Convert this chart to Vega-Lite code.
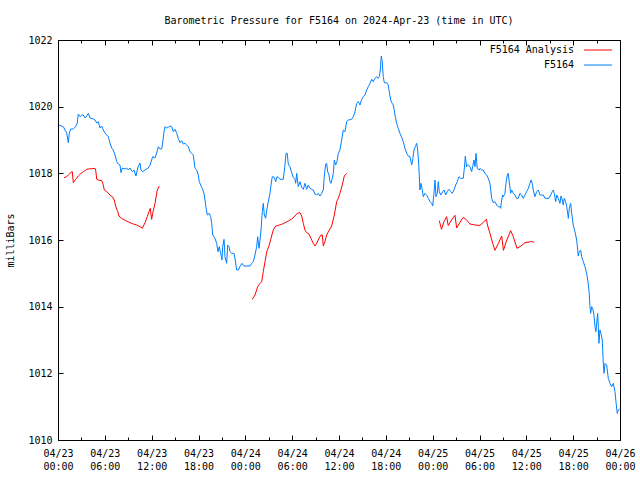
{
"$schema": "https://vega.github.io/schema/vega-lite/v6.json",
"width": 562, "height": 400,
"autosize": "none",
"padding": {"left": 58, "top": 40, "right": 20, "bottom": 40},
"background": "white",
"title": {"text": "Barometric Pressure for F5164 on 2024-Apr-23 (time in UTC)", "font": "DejaVu Sans Mono", "fontSize": 10, "fontWeight": "normal", "color": "black", "anchor": "middle", "offset": 9},
"config": {
  "view": {"stroke": "black", "strokeWidth": 1},
  "axis": {"grid": false, "domainColor": "black", "tickColor": "black", "labelColor": "black", "titleColor": "black", "labelFont": "DejaVu Sans Mono", "titleFont": "DejaVu Sans Mono", "labelFontSize": 10, "titleFontSize": 10, "titleFontWeight": "normal", "labelFlush": false, "labelOverlap": false, "labelBound": false}
},
"data": {"values": [
{"series":"F5164","seg":0,"hours":0.13,"mbar":1019.45},
{"series":"F5164","seg":0,"hours":0.68,"mbar":1019.40},
{"series":"F5164","seg":0,"hours":0.90,"mbar":1019.30},
{"series":"F5164","seg":0,"hours":1.11,"mbar":1019.21},
{"series":"F5164","seg":0,"hours":1.32,"mbar":1018.92},
{"series":"F5164","seg":0,"hours":1.45,"mbar":1019.21},
{"series":"F5164","seg":0,"hours":1.63,"mbar":1019.33},
{"series":"F5164","seg":0,"hours":1.96,"mbar":1019.33},
{"series":"F5164","seg":0,"hours":2.27,"mbar":1019.40},
{"series":"F5164","seg":0,"hours":2.47,"mbar":1019.51},
{"series":"F5164","seg":0,"hours":2.60,"mbar":1019.78},
{"series":"F5164","seg":0,"hours":2.82,"mbar":1019.70},
{"series":"F5164","seg":0,"hours":3.04,"mbar":1019.75},
{"series":"F5164","seg":0,"hours":3.24,"mbar":1019.75},
{"series":"F5164","seg":0,"hours":3.46,"mbar":1019.66},
{"series":"F5164","seg":0,"hours":3.68,"mbar":1019.72},
{"series":"F5164","seg":0,"hours":3.88,"mbar":1019.80},
{"series":"F5164","seg":0,"hours":4.10,"mbar":1019.66},
{"series":"F5164","seg":0,"hours":4.52,"mbar":1019.63},
{"series":"F5164","seg":0,"hours":4.74,"mbar":1019.60},
{"series":"F5164","seg":0,"hours":4.96,"mbar":1019.51},
{"series":"F5164","seg":0,"hours":5.16,"mbar":1019.55},
{"series":"F5164","seg":0,"hours":5.38,"mbar":1019.36},
{"series":"F5164","seg":0,"hours":5.60,"mbar":1019.42},
{"series":"F5164","seg":0,"hours":5.80,"mbar":1019.30},
{"series":"F5164","seg":0,"hours":6.02,"mbar":1019.21},
{"series":"F5164","seg":0,"hours":6.24,"mbar":1019.15},
{"series":"F5164","seg":0,"hours":6.44,"mbar":1019.10},
{"series":"F5164","seg":0,"hours":6.66,"mbar":1018.91},
{"series":"F5164","seg":0,"hours":6.88,"mbar":1018.76},
{"series":"F5164","seg":0,"hours":7.08,"mbar":1018.70},
{"series":"F5164","seg":0,"hours":7.30,"mbar":1018.55},
{"series":"F5164","seg":0,"hours":7.52,"mbar":1018.35},
{"series":"F5164","seg":0,"hours":7.72,"mbar":1018.28},
{"series":"F5164","seg":0,"hours":7.94,"mbar":1018.25},
{"series":"F5164","seg":0,"hours":8.07,"mbar":1018.02},
{"series":"F5164","seg":0,"hours":8.24,"mbar":1018.16},
{"series":"F5164","seg":0,"hours":8.58,"mbar":1018.13},
{"series":"F5164","seg":0,"hours":8.80,"mbar":1018.16},
{"series":"F5164","seg":0,"hours":9.01,"mbar":1018.10},
{"series":"F5164","seg":0,"hours":9.22,"mbar":1018.16},
{"series":"F5164","seg":0,"hours":9.52,"mbar":1018.05},
{"series":"F5164","seg":0,"hours":9.74,"mbar":1018.10},
{"series":"F5164","seg":0,"hours":9.99,"mbar":1017.92},
{"series":"F5164","seg":0,"hours":10.21,"mbar":1018.16},
{"series":"F5164","seg":0,"hours":10.50,"mbar":1018.31},
{"series":"F5164","seg":0,"hours":10.63,"mbar":1018.10},
{"series":"F5164","seg":0,"hours":10.85,"mbar":1018.05},
{"series":"F5164","seg":0,"hours":11.15,"mbar":1018.10},
{"series":"F5164","seg":0,"hours":11.57,"mbar":1018.16},
{"series":"F5164","seg":0,"hours":11.79,"mbar":1018.25},
{"series":"F5164","seg":0,"hours":12.13,"mbar":1018.50},
{"series":"F5164","seg":0,"hours":12.43,"mbar":1018.46},
{"series":"F5164","seg":0,"hours":12.64,"mbar":1018.61},
{"series":"F5164","seg":0,"hours":12.85,"mbar":1018.80},
{"series":"F5164","seg":0,"hours":13.07,"mbar":1018.73},
{"series":"F5164","seg":0,"hours":13.28,"mbar":1018.73},
{"series":"F5164","seg":0,"hours":13.41,"mbar":1018.91},
{"series":"F5164","seg":0,"hours":13.58,"mbar":1019.25},
{"series":"F5164","seg":0,"hours":13.71,"mbar":1019.40},
{"series":"F5164","seg":0,"hours":13.93,"mbar":1019.36},
{"series":"F5164","seg":0,"hours":14.13,"mbar":1019.38},
{"series":"F5164","seg":0,"hours":14.35,"mbar":1019.42},
{"series":"F5164","seg":0,"hours":14.57,"mbar":1019.40},
{"series":"F5164","seg":0,"hours":14.77,"mbar":1019.25},
{"series":"F5164","seg":0,"hours":14.99,"mbar":1019.32},
{"series":"F5164","seg":0,"hours":15.21,"mbar":1019.20},
{"series":"F5164","seg":0,"hours":15.41,"mbar":1019.05},
{"series":"F5164","seg":0,"hours":15.63,"mbar":1018.92},
{"series":"F5164","seg":0,"hours":15.85,"mbar":1018.98},
{"series":"F5164","seg":0,"hours":16.05,"mbar":1018.88},
{"series":"F5164","seg":0,"hours":16.27,"mbar":1018.90},
{"series":"F5164","seg":0,"hours":16.49,"mbar":1018.85},
{"series":"F5164","seg":0,"hours":16.69,"mbar":1018.80},
{"series":"F5164","seg":0,"hours":16.91,"mbar":1018.65},
{"series":"F5164","seg":0,"hours":17.13,"mbar":1018.60},
{"series":"F5164","seg":0,"hours":17.33,"mbar":1018.55},
{"series":"F5164","seg":0,"hours":17.55,"mbar":1018.15},
{"series":"F5164","seg":0,"hours":17.77,"mbar":1018.10},
{"series":"F5164","seg":0,"hours":17.97,"mbar":1017.95},
{"series":"F5164","seg":0,"hours":18.10,"mbar":1017.75},
{"series":"F5164","seg":0,"hours":18.28,"mbar":1017.65},
{"series":"F5164","seg":0,"hours":18.49,"mbar":1017.55},
{"series":"F5164","seg":0,"hours":18.70,"mbar":1017.40},
{"series":"F5164","seg":0,"hours":18.83,"mbar":1017.20},
{"series":"F5164","seg":0,"hours":18.96,"mbar":1016.98},
{"series":"F5164","seg":0,"hours":19.13,"mbar":1016.75},
{"series":"F5164","seg":0,"hours":19.38,"mbar":1016.80},
{"series":"F5164","seg":0,"hours":19.56,"mbar":1016.70},
{"series":"F5164","seg":0,"hours":19.69,"mbar":1016.50},
{"series":"F5164","seg":0,"hours":19.82,"mbar":1016.15},
{"series":"F5164","seg":0,"hours":20.11,"mbar":1016.05},
{"series":"F5164","seg":0,"hours":20.33,"mbar":1015.90},
{"series":"F5164","seg":0,"hours":20.50,"mbar":1015.65},
{"series":"F5164","seg":0,"hours":20.66,"mbar":1015.80},
{"series":"F5164","seg":0,"hours":20.84,"mbar":1015.60},
{"series":"F5164","seg":0,"hours":21.01,"mbar":1015.40},
{"series":"F5164","seg":0,"hours":21.10,"mbar":1015.80},
{"series":"F5164","seg":0,"hours":21.27,"mbar":1016.02},
{"series":"F5164","seg":0,"hours":21.39,"mbar":1015.50},
{"series":"F5164","seg":0,"hours":21.61,"mbar":1015.30},
{"series":"F5164","seg":0,"hours":21.74,"mbar":1015.85},
{"series":"F5164","seg":0,"hours":21.91,"mbar":1015.80},
{"series":"F5164","seg":0,"hours":22.03,"mbar":1015.65},
{"series":"F5164","seg":0,"hours":22.25,"mbar":1015.60},
{"series":"F5164","seg":0,"hours":22.55,"mbar":1015.60},
{"series":"F5164","seg":0,"hours":22.71,"mbar":1015.40},
{"series":"F5164","seg":0,"hours":22.89,"mbar":1015.10},
{"series":"F5164","seg":0,"hours":23.10,"mbar":1015.10},
{"series":"F5164","seg":0,"hours":23.31,"mbar":1015.20},
{"series":"F5164","seg":0,"hours":23.57,"mbar":1015.30},
{"series":"F5164","seg":0,"hours":23.83,"mbar":1015.22},
{"series":"F5164","seg":0,"hours":24.60,"mbar":1015.22},
{"series":"F5164","seg":0,"hours":24.81,"mbar":1015.30},
{"series":"F5164","seg":0,"hours":25.02,"mbar":1015.35},
{"series":"F5164","seg":0,"hours":25.24,"mbar":1015.55},
{"series":"F5164","seg":0,"hours":25.45,"mbar":1015.80},
{"series":"F5164","seg":0,"hours":25.58,"mbar":1016.10},
{"series":"F5164","seg":0,"hours":25.75,"mbar":1015.75},
{"series":"F5164","seg":0,"hours":25.88,"mbar":1016.00},
{"series":"F5164","seg":0,"hours":26.01,"mbar":1016.30},
{"series":"F5164","seg":0,"hours":26.17,"mbar":1016.85},
{"series":"F5164","seg":0,"hours":26.30,"mbar":1017.10},
{"series":"F5164","seg":0,"hours":26.43,"mbar":1016.75},
{"series":"F5164","seg":0,"hours":26.61,"mbar":1016.65},
{"series":"F5164","seg":0,"hours":26.74,"mbar":1016.90},
{"series":"F5164","seg":0,"hours":26.94,"mbar":1017.15},
{"series":"F5164","seg":0,"hours":27.16,"mbar":1017.40},
{"series":"F5164","seg":0,"hours":27.29,"mbar":1017.65},
{"series":"F5164","seg":0,"hours":27.45,"mbar":1017.90},
{"series":"F5164","seg":0,"hours":27.71,"mbar":1017.88},
{"series":"F5164","seg":0,"hours":27.89,"mbar":1017.75},
{"series":"F5164","seg":0,"hours":28.06,"mbar":1017.90},
{"series":"F5164","seg":0,"hours":28.22,"mbar":1017.88},
{"series":"F5164","seg":0,"hours":28.44,"mbar":1017.82},
{"series":"F5164","seg":0,"hours":28.86,"mbar":1017.82},
{"series":"F5164","seg":0,"hours":29.08,"mbar":1018.25},
{"series":"F5164","seg":0,"hours":29.21,"mbar":1018.60},
{"series":"F5164","seg":0,"hours":29.37,"mbar":1018.60},
{"series":"F5164","seg":0,"hours":29.50,"mbar":1018.28},
{"series":"F5164","seg":0,"hours":29.72,"mbar":1018.20},
{"series":"F5164","seg":0,"hours":29.94,"mbar":1018.02},
{"series":"F5164","seg":0,"hours":30.14,"mbar":1017.88},
{"series":"F5164","seg":0,"hours":30.36,"mbar":1017.82},
{"series":"F5164","seg":0,"hours":30.45,"mbar":1017.70},
{"series":"F5164","seg":0,"hours":30.58,"mbar":1018.00},
{"series":"F5164","seg":0,"hours":30.78,"mbar":1017.60},
{"series":"F5164","seg":0,"hours":31.00,"mbar":1017.75},
{"series":"F5164","seg":0,"hours":31.22,"mbar":1017.58},
{"series":"F5164","seg":0,"hours":31.43,"mbar":1017.52},
{"series":"F5164","seg":0,"hours":31.64,"mbar":1017.70},
{"series":"F5164","seg":0,"hours":31.86,"mbar":1017.52},
{"series":"F5164","seg":0,"hours":32.06,"mbar":1017.65},
{"series":"F5164","seg":0,"hours":32.28,"mbar":1017.55},
{"series":"F5164","seg":0,"hours":32.50,"mbar":1017.52},
{"series":"F5164","seg":0,"hours":32.70,"mbar":1017.50},
{"series":"F5164","seg":0,"hours":32.92,"mbar":1017.38},
{"series":"F5164","seg":0,"hours":33.14,"mbar":1017.35},
{"series":"F5164","seg":0,"hours":33.34,"mbar":1017.40},
{"series":"F5164","seg":0,"hours":33.56,"mbar":1017.32},
{"series":"F5164","seg":0,"hours":33.78,"mbar":1017.40},
{"series":"F5164","seg":0,"hours":33.99,"mbar":1017.50},
{"series":"F5164","seg":0,"hours":34.11,"mbar":1017.90},
{"series":"F5164","seg":0,"hours":34.29,"mbar":1018.28},
{"series":"F5164","seg":0,"hours":34.42,"mbar":1018.30},
{"series":"F5164","seg":0,"hours":34.55,"mbar":1018.05},
{"series":"F5164","seg":0,"hours":34.72,"mbar":1017.95},
{"series":"F5164","seg":0,"hours":34.84,"mbar":1017.75},
{"series":"F5164","seg":0,"hours":34.97,"mbar":1017.70},
{"series":"F5164","seg":0,"hours":35.14,"mbar":1017.85},
{"series":"F5164","seg":0,"hours":35.27,"mbar":1018.00},
{"series":"F5164","seg":0,"hours":35.40,"mbar":1018.40},
{"series":"F5164","seg":0,"hours":35.57,"mbar":1018.25},
{"series":"F5164","seg":0,"hours":35.74,"mbar":1018.35},
{"series":"F5164","seg":0,"hours":35.91,"mbar":1018.60},
{"series":"F5164","seg":0,"hours":36.12,"mbar":1018.70},
{"series":"F5164","seg":0,"hours":36.34,"mbar":1019.00},
{"series":"F5164","seg":0,"hours":36.55,"mbar":1019.30},
{"series":"F5164","seg":0,"hours":36.77,"mbar":1019.25},
{"series":"F5164","seg":0,"hours":36.98,"mbar":1019.55},
{"series":"F5164","seg":0,"hours":37.19,"mbar":1019.60},
{"series":"F5164","seg":0,"hours":37.62,"mbar":1019.62},
{"series":"F5164","seg":0,"hours":37.83,"mbar":1019.70},
{"series":"F5164","seg":0,"hours":38.05,"mbar":1019.85},
{"series":"F5164","seg":0,"hours":38.26,"mbar":1020.10},
{"series":"F5164","seg":0,"hours":38.47,"mbar":1020.15},
{"series":"F5164","seg":0,"hours":38.69,"mbar":1020.05},
{"series":"F5164","seg":0,"hours":38.91,"mbar":1020.22},
{"series":"F5164","seg":0,"hours":39.11,"mbar":1020.30},
{"series":"F5164","seg":0,"hours":39.33,"mbar":1020.35},
{"series":"F5164","seg":0,"hours":39.55,"mbar":1020.50},
{"series":"F5164","seg":0,"hours":39.75,"mbar":1020.60},
{"series":"F5164","seg":0,"hours":39.97,"mbar":1020.70},
{"series":"F5164","seg":0,"hours":40.19,"mbar":1020.82},
{"series":"F5164","seg":0,"hours":40.39,"mbar":1020.75},
{"series":"F5164","seg":0,"hours":40.61,"mbar":1020.85},
{"series":"F5164","seg":0,"hours":40.83,"mbar":1020.90},
{"series":"F5164","seg":0,"hours":41.03,"mbar":1020.85},
{"series":"F5164","seg":0,"hours":41.16,"mbar":1020.90},
{"series":"F5164","seg":0,"hours":41.29,"mbar":1021.10},
{"series":"F5164","seg":0,"hours":41.42,"mbar":1021.52},
{"series":"F5164","seg":0,"hours":41.54,"mbar":1021.35},
{"series":"F5164","seg":0,"hours":41.67,"mbar":1020.90},
{"series":"F5164","seg":0,"hours":41.80,"mbar":1020.72},
{"series":"F5164","seg":0,"hours":42.11,"mbar":1020.72},
{"series":"F5164","seg":0,"hours":42.31,"mbar":1020.65},
{"series":"F5164","seg":0,"hours":42.44,"mbar":1020.45},
{"series":"F5164","seg":0,"hours":42.62,"mbar":1020.20},
{"series":"F5164","seg":0,"hours":42.75,"mbar":1020.12},
{"series":"F5164","seg":0,"hours":42.95,"mbar":1020.05},
{"series":"F5164","seg":0,"hours":43.08,"mbar":1019.90},
{"series":"F5164","seg":0,"hours":43.21,"mbar":1019.70},
{"series":"F5164","seg":0,"hours":43.39,"mbar":1019.50},
{"series":"F5164","seg":0,"hours":43.59,"mbar":1019.35},
{"series":"F5164","seg":0,"hours":43.81,"mbar":1019.20},
{"series":"F5164","seg":0,"hours":44.03,"mbar":1019.08},
{"series":"F5164","seg":0,"hours":44.23,"mbar":1018.95},
{"series":"F5164","seg":0,"hours":44.45,"mbar":1018.75},
{"series":"F5164","seg":0,"hours":44.67,"mbar":1018.60},
{"series":"F5164","seg":0,"hours":44.87,"mbar":1018.52},
{"series":"F5164","seg":0,"hours":45.09,"mbar":1018.50},
{"series":"F5164","seg":0,"hours":45.31,"mbar":1018.25},
{"series":"F5164","seg":0,"hours":45.44,"mbar":1018.40},
{"series":"F5164","seg":0,"hours":45.61,"mbar":1018.70},
{"series":"F5164","seg":0,"hours":45.77,"mbar":1018.80},
{"series":"F5164","seg":0,"hours":45.95,"mbar":1018.90},
{"series":"F5164","seg":0,"hours":46.08,"mbar":1018.70},
{"series":"F5164","seg":0,"hours":46.21,"mbar":1018.30},
{"series":"F5164","seg":0,"hours":46.37,"mbar":1017.50},
{"series":"F5164","seg":0,"hours":46.50,"mbar":1017.70},
{"series":"F5164","seg":0,"hours":46.63,"mbar":1017.55},
{"series":"F5164","seg":0,"hours":46.80,"mbar":1017.30},
{"series":"F5164","seg":0,"hours":47.01,"mbar":1017.40},
{"series":"F5164","seg":0,"hours":47.23,"mbar":1017.35},
{"series":"F5164","seg":0,"hours":47.44,"mbar":1017.25},
{"series":"F5164","seg":0,"hours":47.66,"mbar":1017.15},
{"series":"F5164","seg":0,"hours":47.87,"mbar":1017.10},
{"series":"F5164","seg":0,"hours":48.00,"mbar":1017.02},
{"series":"F5164","seg":0,"hours":48.17,"mbar":1017.40},
{"series":"F5164","seg":0,"hours":48.30,"mbar":1017.80},
{"series":"F5164","seg":0,"hours":48.42,"mbar":1017.30},
{"series":"F5164","seg":0,"hours":48.59,"mbar":1017.40},
{"series":"F5164","seg":0,"hours":48.72,"mbar":1017.75},
{"series":"F5164","seg":0,"hours":48.85,"mbar":1017.45},
{"series":"F5164","seg":0,"hours":49.03,"mbar":1017.35},
{"series":"F5164","seg":0,"hours":49.28,"mbar":1017.45},
{"series":"F5164","seg":0,"hours":49.45,"mbar":1017.50},
{"series":"F5164","seg":0,"hours":49.67,"mbar":1017.35},
{"series":"F5164","seg":0,"hours":49.87,"mbar":1017.45},
{"series":"F5164","seg":0,"hours":50.09,"mbar":1017.52},
{"series":"F5164","seg":0,"hours":50.31,"mbar":1017.45},
{"series":"F5164","seg":0,"hours":50.51,"mbar":1017.40},
{"series":"F5164","seg":0,"hours":50.73,"mbar":1017.50},
{"series":"F5164","seg":0,"hours":50.95,"mbar":1017.65},
{"series":"F5164","seg":0,"hours":51.15,"mbar":1017.75},
{"series":"F5164","seg":0,"hours":51.37,"mbar":1017.90},
{"series":"F5164","seg":0,"hours":51.59,"mbar":1017.85},
{"series":"F5164","seg":0,"hours":51.92,"mbar":1017.85},
{"series":"F5164","seg":0,"hours":52.10,"mbar":1018.25},
{"series":"F5164","seg":0,"hours":52.18,"mbar":1018.52},
{"series":"F5164","seg":0,"hours":52.35,"mbar":1018.20},
{"series":"F5164","seg":0,"hours":52.56,"mbar":1018.25},
{"series":"F5164","seg":0,"hours":52.78,"mbar":1018.20},
{"series":"F5164","seg":0,"hours":52.99,"mbar":1018.05},
{"series":"F5164","seg":0,"hours":53.12,"mbar":1018.20},
{"series":"F5164","seg":0,"hours":53.29,"mbar":1018.40},
{"series":"F5164","seg":0,"hours":53.42,"mbar":1018.20},
{"series":"F5164","seg":0,"hours":53.55,"mbar":1018.60},
{"series":"F5164","seg":0,"hours":53.71,"mbar":1018.15},
{"series":"F5164","seg":0,"hours":53.97,"mbar":1018.10},
{"series":"F5164","seg":0,"hours":54.06,"mbar":1018.15},
{"series":"F5164","seg":0,"hours":54.28,"mbar":1018.10},
{"series":"F5164","seg":0,"hours":54.48,"mbar":1018.10},
{"series":"F5164","seg":0,"hours":54.70,"mbar":1018.00},
{"series":"F5164","seg":0,"hours":54.92,"mbar":1017.95},
{"series":"F5164","seg":0,"hours":55.12,"mbar":1017.85},
{"series":"F5164","seg":0,"hours":55.34,"mbar":1017.70},
{"series":"F5164","seg":0,"hours":55.56,"mbar":1017.25},
{"series":"F5164","seg":0,"hours":55.76,"mbar":1017.12},
{"series":"F5164","seg":0,"hours":55.98,"mbar":1017.15},
{"series":"F5164","seg":0,"hours":56.20,"mbar":1017.05},
{"series":"F5164","seg":0,"hours":56.40,"mbar":1017.00},
{"series":"F5164","seg":0,"hours":56.62,"mbar":1017.00},
{"series":"F5164","seg":0,"hours":56.71,"mbar":1016.95},
{"series":"F5164","seg":0,"hours":56.84,"mbar":1017.20},
{"series":"F5164","seg":0,"hours":56.97,"mbar":1017.35},
{"series":"F5164","seg":0,"hours":57.05,"mbar":1017.30},
{"series":"F5164","seg":0,"hours":57.26,"mbar":1017.40},
{"series":"F5164","seg":0,"hours":57.39,"mbar":1017.70},
{"series":"F5164","seg":0,"hours":57.56,"mbar":1017.95},
{"series":"F5164","seg":0,"hours":57.68,"mbar":1018.00},
{"series":"F5164","seg":0,"hours":57.81,"mbar":1017.75},
{"series":"F5164","seg":0,"hours":57.99,"mbar":1017.40},
{"series":"F5164","seg":0,"hours":58.12,"mbar":1017.50},
{"series":"F5164","seg":0,"hours":58.33,"mbar":1017.40},
{"series":"F5164","seg":0,"hours":58.54,"mbar":1017.35},
{"series":"F5164","seg":0,"hours":58.76,"mbar":1017.25},
{"series":"F5164","seg":0,"hours":58.97,"mbar":1017.25},
{"series":"F5164","seg":0,"hours":59.18,"mbar":1017.40},
{"series":"F5164","seg":0,"hours":59.40,"mbar":1017.35},
{"series":"F5164","seg":0,"hours":59.61,"mbar":1017.25},
{"series":"F5164","seg":0,"hours":59.82,"mbar":1017.35},
{"series":"F5164","seg":0,"hours":60.04,"mbar":1017.45},
{"series":"F5164","seg":0,"hours":60.25,"mbar":1017.55},
{"series":"F5164","seg":0,"hours":60.46,"mbar":1017.70},
{"series":"F5164","seg":0,"hours":60.59,"mbar":1017.80},
{"series":"F5164","seg":0,"hours":60.76,"mbar":1017.70},
{"series":"F5164","seg":0,"hours":60.89,"mbar":1017.50},
{"series":"F5164","seg":0,"hours":61.10,"mbar":1017.30},
{"series":"F5164","seg":0,"hours":61.32,"mbar":1017.45},
{"series":"F5164","seg":0,"hours":61.53,"mbar":1017.50},
{"series":"F5164","seg":0,"hours":61.75,"mbar":1017.35},
{"series":"F5164","seg":0,"hours":62.17,"mbar":1017.35},
{"series":"F5164","seg":0,"hours":62.39,"mbar":1017.25},
{"series":"F5164","seg":0,"hours":62.90,"mbar":1017.25},
{"series":"F5164","seg":0,"hours":63.12,"mbar":1017.35},
{"series":"F5164","seg":0,"hours":63.32,"mbar":1017.45},
{"series":"F5164","seg":0,"hours":63.45,"mbar":1017.50},
{"series":"F5164","seg":0,"hours":63.58,"mbar":1017.40},
{"series":"F5164","seg":0,"hours":63.76,"mbar":1017.15},
{"series":"F5164","seg":0,"hours":63.89,"mbar":1017.35},
{"series":"F5164","seg":0,"hours":64.09,"mbar":1017.25},
{"series":"F5164","seg":0,"hours":64.31,"mbar":1017.10},
{"series":"F5164","seg":0,"hours":64.44,"mbar":1017.32},
{"series":"F5164","seg":0,"hours":64.61,"mbar":1017.20},
{"series":"F5164","seg":0,"hours":64.73,"mbar":1017.05},
{"series":"F5164","seg":0,"hours":64.86,"mbar":1017.25},
{"series":"F5164","seg":0,"hours":65.04,"mbar":1017.15},
{"series":"F5164","seg":0,"hours":65.17,"mbar":1017.00},
{"series":"F5164","seg":0,"hours":65.30,"mbar":1016.80},
{"series":"F5164","seg":0,"hours":65.38,"mbar":1016.65},
{"series":"F5164","seg":0,"hours":65.51,"mbar":1016.95},
{"series":"F5164","seg":0,"hours":65.68,"mbar":1017.10},
{"series":"F5164","seg":0,"hours":65.81,"mbar":1016.80},
{"series":"F5164","seg":0,"hours":66.01,"mbar":1016.45},
{"series":"F5164","seg":0,"hours":66.23,"mbar":1016.25},
{"series":"F5164","seg":0,"hours":66.45,"mbar":1016.00},
{"series":"F5164","seg":0,"hours":66.58,"mbar":1015.70},
{"series":"F5164","seg":0,"hours":66.65,"mbar":1015.52},
{"series":"F5164","seg":0,"hours":66.78,"mbar":1015.65},
{"series":"F5164","seg":0,"hours":66.96,"mbar":1015.70},
{"series":"F5164","seg":0,"hours":67.09,"mbar":1015.50},
{"series":"F5164","seg":0,"hours":67.30,"mbar":1015.35},
{"series":"F5164","seg":0,"hours":67.51,"mbar":1015.20},
{"series":"F5164","seg":0,"hours":67.73,"mbar":1015.00},
{"series":"F5164","seg":0,"hours":67.93,"mbar":1014.70},
{"series":"F5164","seg":0,"hours":68.06,"mbar":1014.40},
{"series":"F5164","seg":0,"hours":68.15,"mbar":1014.00},
{"series":"F5164","seg":0,"hours":68.24,"mbar":1013.80},
{"series":"F5164","seg":0,"hours":68.37,"mbar":1014.00},
{"series":"F5164","seg":0,"hours":68.50,"mbar":1013.95},
{"series":"F5164","seg":0,"hours":68.67,"mbar":1013.75},
{"series":"F5164","seg":0,"hours":68.79,"mbar":1013.40},
{"series":"F5164","seg":0,"hours":68.92,"mbar":1013.25},
{"series":"F5164","seg":0,"hours":69.05,"mbar":1013.60},
{"series":"F5164","seg":0,"hours":69.14,"mbar":1013.80},
{"series":"F5164","seg":0,"hours":69.22,"mbar":1013.40},
{"series":"F5164","seg":0,"hours":69.30,"mbar":1012.90},
{"series":"F5164","seg":0,"hours":69.43,"mbar":1013.30},
{"series":"F5164","seg":0,"hours":69.56,"mbar":1013.20},
{"series":"F5164","seg":0,"hours":69.73,"mbar":1013.00},
{"series":"F5164","seg":0,"hours":69.86,"mbar":1012.30},
{"series":"F5164","seg":0,"hours":69.95,"mbar":1012.00},
{"series":"F5164","seg":0,"hours":70.08,"mbar":1012.30},
{"series":"F5164","seg":0,"hours":70.29,"mbar":1012.25},
{"series":"F5164","seg":0,"hours":70.50,"mbar":1011.85},
{"series":"F5164","seg":0,"hours":70.72,"mbar":1011.70},
{"series":"F5164","seg":0,"hours":70.93,"mbar":1011.60},
{"series":"F5164","seg":0,"hours":71.14,"mbar":1011.70},
{"series":"F5164","seg":0,"hours":71.36,"mbar":1011.45},
{"series":"F5164","seg":0,"hours":71.48,"mbar":1011.15},
{"series":"F5164","seg":0,"hours":71.65,"mbar":1010.80},
{"series":"F5164","seg":0,"hours":71.78,"mbar":1010.90},
{"series":"F5164","seg":0,"hours":71.96,"mbar":1010.92},
{"series":"F5164 Analysis","seg":1,"hours":0.77,"mbar":1017.87},
{"series":"F5164 Analysis","seg":1,"hours":1.11,"mbar":1017.90},
{"series":"F5164 Analysis","seg":1,"hours":1.32,"mbar":1017.95},
{"series":"F5164 Analysis","seg":1,"hours":1.67,"mbar":1018.03},
{"series":"F5164 Analysis","seg":1,"hours":1.83,"mbar":1018.05},
{"series":"F5164 Analysis","seg":1,"hours":1.96,"mbar":1017.72},
{"series":"F5164 Analysis","seg":1,"hours":2.27,"mbar":1017.82},
{"series":"F5164 Analysis","seg":1,"hours":2.60,"mbar":1017.92},
{"series":"F5164 Analysis","seg":1,"hours":2.95,"mbar":1018.00},
{"series":"F5164 Analysis","seg":1,"hours":3.24,"mbar":1018.05},
{"series":"F5164 Analysis","seg":1,"hours":3.68,"mbar":1018.12},
{"series":"F5164 Analysis","seg":1,"hours":3.88,"mbar":1018.13},
{"series":"F5164 Analysis","seg":1,"hours":4.32,"mbar":1018.14},
{"series":"F5164 Analysis","seg":1,"hours":4.74,"mbar":1018.15},
{"series":"F5164 Analysis","seg":1,"hours":4.83,"mbar":1018.10},
{"series":"F5164 Analysis","seg":1,"hours":4.96,"mbar":1017.82},
{"series":"F5164 Analysis","seg":1,"hours":5.16,"mbar":1017.80},
{"series":"F5164 Analysis","seg":1,"hours":5.60,"mbar":1017.78},
{"series":"F5164 Analysis","seg":1,"hours":5.80,"mbar":1017.65},
{"series":"F5164 Analysis","seg":1,"hours":5.93,"mbar":1017.50},
{"series":"F5164 Analysis","seg":1,"hours":6.24,"mbar":1017.45},
{"series":"F5164 Analysis","seg":1,"hours":6.66,"mbar":1017.35},
{"series":"F5164 Analysis","seg":1,"hours":6.96,"mbar":1017.30},
{"series":"F5164 Analysis","seg":1,"hours":7.21,"mbar":1017.20},
{"series":"F5164 Analysis","seg":1,"hours":7.39,"mbar":1017.02},
{"series":"F5164 Analysis","seg":1,"hours":7.65,"mbar":1016.85},
{"series":"F5164 Analysis","seg":1,"hours":7.81,"mbar":1016.72},
{"series":"F5164 Analysis","seg":1,"hours":8.16,"mbar":1016.65},
{"series":"F5164 Analysis","seg":1,"hours":8.67,"mbar":1016.58},
{"series":"F5164 Analysis","seg":1,"hours":9.22,"mbar":1016.52},
{"series":"F5164 Analysis","seg":1,"hours":9.65,"mbar":1016.48},
{"series":"F5164 Analysis","seg":1,"hours":10.08,"mbar":1016.45},
{"series":"F5164 Analysis","seg":1,"hours":10.50,"mbar":1016.40},
{"series":"F5164 Analysis","seg":1,"hours":10.80,"mbar":1016.35},
{"series":"F5164 Analysis","seg":1,"hours":11.15,"mbar":1016.52},
{"series":"F5164 Analysis","seg":1,"hours":11.44,"mbar":1016.70},
{"series":"F5164 Analysis","seg":1,"hours":11.66,"mbar":1016.85},
{"series":"F5164 Analysis","seg":1,"hours":11.82,"mbar":1016.95},
{"series":"F5164 Analysis","seg":1,"hours":12.00,"mbar":1016.62},
{"series":"F5164 Analysis","seg":1,"hours":12.13,"mbar":1016.80},
{"series":"F5164 Analysis","seg":1,"hours":12.43,"mbar":1017.10},
{"series":"F5164 Analysis","seg":1,"hours":12.72,"mbar":1017.50},
{"series":"F5164 Analysis","seg":1,"hours":12.98,"mbar":1017.62},
{"series":"F5164 Analysis","seg":2,"hours":24.89,"mbar":1014.22},
{"series":"F5164 Analysis","seg":2,"hours":25.24,"mbar":1014.35},
{"series":"F5164 Analysis","seg":2,"hours":25.58,"mbar":1014.60},
{"series":"F5164 Analysis","seg":2,"hours":25.88,"mbar":1014.70},
{"series":"F5164 Analysis","seg":2,"hours":26.09,"mbar":1014.75},
{"series":"F5164 Analysis","seg":2,"hours":26.30,"mbar":1015.05},
{"series":"F5164 Analysis","seg":2,"hours":26.52,"mbar":1015.35},
{"series":"F5164 Analysis","seg":2,"hours":26.74,"mbar":1015.65},
{"series":"F5164 Analysis","seg":2,"hours":27.03,"mbar":1015.82},
{"series":"F5164 Analysis","seg":2,"hours":27.29,"mbar":1016.05},
{"series":"F5164 Analysis","seg":2,"hours":27.58,"mbar":1016.30},
{"series":"F5164 Analysis","seg":2,"hours":27.89,"mbar":1016.42},
{"series":"F5164 Analysis","seg":2,"hours":28.22,"mbar":1016.44},
{"series":"F5164 Analysis","seg":2,"hours":28.66,"mbar":1016.47},
{"series":"F5164 Analysis","seg":2,"hours":29.08,"mbar":1016.52},
{"series":"F5164 Analysis","seg":2,"hours":29.50,"mbar":1016.57},
{"series":"F5164 Analysis","seg":2,"hours":29.94,"mbar":1016.63},
{"series":"F5164 Analysis","seg":2,"hours":30.36,"mbar":1016.72},
{"series":"F5164 Analysis","seg":2,"hours":30.65,"mbar":1016.80},
{"series":"F5164 Analysis","seg":2,"hours":31.00,"mbar":1016.82},
{"series":"F5164 Analysis","seg":2,"hours":31.22,"mbar":1016.72},
{"series":"F5164 Analysis","seg":2,"hours":31.43,"mbar":1016.50},
{"series":"F5164 Analysis","seg":2,"hours":31.64,"mbar":1016.30},
{"series":"F5164 Analysis","seg":2,"hours":31.86,"mbar":1016.22},
{"series":"F5164 Analysis","seg":2,"hours":32.15,"mbar":1016.18},
{"series":"F5164 Analysis","seg":2,"hours":32.41,"mbar":1016.05},
{"series":"F5164 Analysis","seg":2,"hours":32.70,"mbar":1015.90},
{"series":"F5164 Analysis","seg":2,"hours":32.92,"mbar":1015.82},
{"series":"F5164 Analysis","seg":2,"hours":33.14,"mbar":1015.90},
{"series":"F5164 Analysis","seg":2,"hours":33.43,"mbar":1016.05},
{"series":"F5164 Analysis","seg":2,"hours":33.69,"mbar":1016.15},
{"series":"F5164 Analysis","seg":2,"hours":33.86,"mbar":1016.15},
{"series":"F5164 Analysis","seg":2,"hours":33.99,"mbar":1015.82},
{"series":"F5164 Analysis","seg":2,"hours":34.20,"mbar":1015.95},
{"series":"F5164 Analysis","seg":2,"hours":34.42,"mbar":1016.15},
{"series":"F5164 Analysis","seg":2,"hours":34.72,"mbar":1016.28},
{"series":"F5164 Analysis","seg":2,"hours":35.06,"mbar":1016.42},
{"series":"F5164 Analysis","seg":2,"hours":35.40,"mbar":1016.75},
{"series":"F5164 Analysis","seg":2,"hours":35.70,"mbar":1017.15},
{"series":"F5164 Analysis","seg":2,"hours":35.91,"mbar":1017.25},
{"series":"F5164 Analysis","seg":2,"hours":36.12,"mbar":1017.40},
{"series":"F5164 Analysis","seg":2,"hours":36.42,"mbar":1017.65},
{"series":"F5164 Analysis","seg":2,"hours":36.68,"mbar":1017.92},
{"series":"F5164 Analysis","seg":2,"hours":36.98,"mbar":1018.00},
{"series":"F5164 Analysis","seg":3,"hours":48.85,"mbar":1016.58},
{"series":"F5164 Analysis","seg":3,"hours":49.13,"mbar":1016.32},
{"series":"F5164 Analysis","seg":3,"hours":49.45,"mbar":1016.55},
{"series":"F5164 Analysis","seg":3,"hours":49.79,"mbar":1016.70},
{"series":"F5164 Analysis","seg":3,"hours":50.00,"mbar":1016.43},
{"series":"F5164 Analysis","seg":3,"hours":50.41,"mbar":1016.60},
{"series":"F5164 Analysis","seg":3,"hours":50.86,"mbar":1016.74},
{"series":"F5164 Analysis","seg":3,"hours":51.07,"mbar":1016.36},
{"series":"F5164 Analysis","seg":3,"hours":51.50,"mbar":1016.53},
{"series":"F5164 Analysis","seg":3,"hours":51.92,"mbar":1016.68},
{"series":"F5164 Analysis","seg":3,"hours":52.35,"mbar":1016.60},
{"series":"F5164 Analysis","seg":3,"hours":52.78,"mbar":1016.48},
{"series":"F5164 Analysis","seg":3,"hours":53.42,"mbar":1016.45},
{"series":"F5164 Analysis","seg":3,"hours":54.06,"mbar":1016.44},
{"series":"F5164 Analysis","seg":3,"hours":54.89,"mbar":1016.62},
{"series":"F5164 Analysis","seg":3,"hours":55.02,"mbar":1016.45},
{"series":"F5164 Analysis","seg":3,"hours":55.34,"mbar":1016.20},
{"series":"F5164 Analysis","seg":3,"hours":55.69,"mbar":1015.90},
{"series":"F5164 Analysis","seg":3,"hours":55.98,"mbar":1015.69},
{"series":"F5164 Analysis","seg":3,"hours":56.40,"mbar":1015.89},
{"series":"F5164 Analysis","seg":3,"hours":56.84,"mbar":1016.12},
{"series":"F5164 Analysis","seg":3,"hours":57.07,"mbar":1015.69},
{"series":"F5164 Analysis","seg":3,"hours":57.45,"mbar":1015.97},
{"series":"F5164 Analysis","seg":3,"hours":57.99,"mbar":1016.28},
{"series":"F5164 Analysis","seg":3,"hours":58.33,"mbar":1016.10},
{"series":"F5164 Analysis","seg":3,"hours":58.80,"mbar":1015.75},
{"series":"F5164 Analysis","seg":3,"hours":59.31,"mbar":1015.82},
{"series":"F5164 Analysis","seg":3,"hours":59.82,"mbar":1015.92},
{"series":"F5164 Analysis","seg":3,"hours":60.37,"mbar":1015.94},
{"series":"F5164 Analysis","seg":3,"hours":60.68,"mbar":1015.96},
{"series":"F5164 Analysis","seg":3,"hours":61.00,"mbar":1015.93}
]},
"layer": [
  {
    "mark": {"type": "line", "strokeWidth": 1},
    "encoding": {
      "x": {"field": "hours", "type": "quantitative", "scale": {"domain": [0, 72], "nice": false, "zero": false},
        "axis": {"orient": "bottom", "values": [0,3,6,9,12,15,18,21,24,27,30,33,36,39,42,45,48,51,54,57,60,63,66,69,72],
          "tickSize": {"condition": {"test": "datum.value % 6 === 0", "value": -5}, "value": -3},
          "labelExpr": "datum.value % 6 === 0 ? ['04/' + (23 + floor(datum.value / 24)), (datum.value % 24 < 10 ? '0' : '') + (datum.value % 24) + ':00'] : ''",
          "labelPadding": 13, "labelLineHeight": 13, "labelBaseline": "top", "title": null}},
      "y": {"field": "mbar", "type": "quantitative", "scale": {"domain": [1010, 1022], "nice": false, "zero": false},
        "axis": {"orient": "left", "values": [1010,1012,1014,1016,1018,1020,1022], "format": "d", "tickSize": -5, "labelPadding": 11, "title": "milliBars", "titlePadding": 12}},
      "color": {"field": "series", "type": "nominal",
        "scale": {"domain": ["F5164 Analysis", "F5164"], "range": ["#ff0000", "#0080ff"]},
        "legend": {"orient": "none", "legendX": 535, "legendY": 5, "title": null, "symbolType": "M-3.5,0H3.5", "symbolSize": 64, "symbolStrokeWidth": 1, "labelAlign": "right", "labelOffset": -29, "labelFont": "DejaVu Sans Mono", "labelFontSize": 10, "labelColor": "black", "rowPadding": 5, "padding": 0}},
      "detail": {"field": "seg", "type": "nominal"}
    }
  },
  {
    "mark": {"type": "line", "opacity": 0},
    "encoding": {
      "x": {"field": "hours", "type": "quantitative",
        "axis": {"orient": "top", "values": [0,3,6,9,12,15,18,21,24,27,30,33,36,39,42,45,48,51,54,57,60,63,66,69,72],
          "tickSize": {"condition": {"test": "datum.value % 6 === 0", "value": -5}, "value": -3},
          "labels": false, "domain": false, "title": null}},
      "y": {"field": "mbar", "type": "quantitative",
        "axis": {"orient": "right", "values": [1010,1012,1014,1016,1018,1020,1022], "tickSize": -5, "labels": false, "domain": false, "title": null}},
      "detail": {"field": "seg", "type": "nominal"}
    }
  }
],
"resolve": {"axis": {"x": "independent", "y": "independent"}}
}
